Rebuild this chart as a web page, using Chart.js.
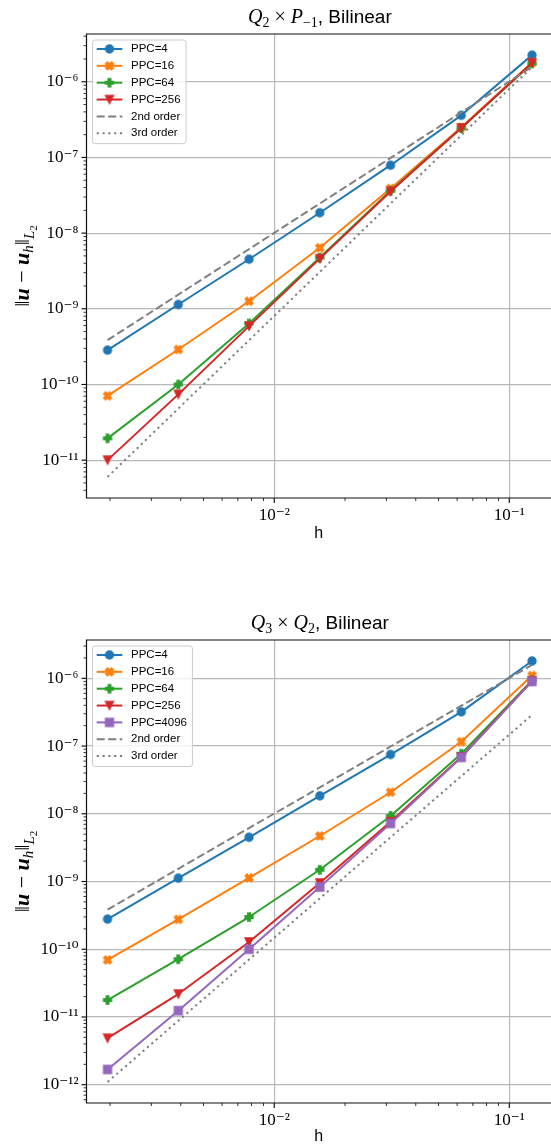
<!DOCTYPE html>
<html>
<head>
<meta charset="utf-8">
<script src="https://cdn.jsdelivr.net/npm/chart.js@4"></script>
<style>
  html, body { margin: 0; padding: 0; width: 551px; height: 1146px; overflow: hidden; background: #fff; }
  #fig { position: relative; width: 551px; height: 1146px; overflow: hidden; }
  canvas { position: absolute; left: 0; }
  #topChart { top: 0; }
  #bottomChart { top: 600px; }
</style>
</head>
<body>
<div id="fig">
  <canvas id="topChart" width="551" height="560"></canvas>
  <canvas id="bottomChart" width="551" height="546"></canvas>
</div>
<script>
// ==================== DATA ====================
// mesh size h = 1/512 ... 1/8
const hValues = [0.001953125, 0.00390625, 0.0078125, 0.015625, 0.03125, 0.0625, 0.125];

// Q2 x P-1, Bilinear
const topPPC4   = [2.84e-10, 1.14e-9, 4.52e-9, 1.86e-8, 7.9e-8, 3.6e-7, 2.25e-6];
const topPPC16  = [7.07e-11, 2.9e-10, 1.26e-9, 6.4e-9, 3.9e-8, 2.5e-7, 1.8e-6];
const topPPC64  = [1.94e-11, 1.0e-10, 6.4e-10, 4.75e-9, 3.62e-8, 2.45e-7, 1.75e-6];
const topPPC256 = [1.0e-11, 7.4e-11, 5.9e-10, 4.6e-9, 3.55e-8, 2.45e-7, 1.78e-6];
const top2nd    = [3.85e-10, 1.54e-9, 6.15e-9, 2.46e-8, 9.85e-8, 3.94e-7, 1.58e-6];
const top3rd    = [6.0e-12, 4.8e-11, 3.84e-10, 3.07e-9, 2.46e-8, 1.97e-7, 1.57e-6];

// Q3 x Q2, Bilinear
const botPPC4    = [2.79e-10, 1.12e-9, 4.5e-9, 1.84e-8, 7.5e-8, 3.2e-7, 1.8e-6];
const botPPC16   = [6.96e-11, 2.76e-10, 1.13e-9, 4.7e-9, 2.08e-8, 1.16e-7, 1.1e-6];
const botPPC64   = [1.78e-11, 7.13e-11, 2.99e-10, 1.49e-9, 9.3e-9, 7.7e-8, 9.3e-7];
const botPPC256  = [4.86e-12, 2.18e-11, 1.28e-10, 9.5e-10, 7.6e-9, 6.9e-8, 9.2e-7];
const botPPC4096 = [1.68e-12, 1.24e-11, 1.0e-10, 8.3e-10, 7.2e-9, 6.8e-8, 9.0e-7];
const bot2nd     = [3.85e-10, 1.54e-9, 6.15e-9, 2.46e-8, 9.85e-8, 3.94e-7, 1.58e-6];
const bot3rd     = [1.1e-12, 8.8e-12, 7.04e-11, 5.63e-10, 4.5e-9, 3.6e-8, 2.88e-7];

// axis limits (the figure is cropped on the right, just before the right spine)
const xMin = 1.589e-3, xMax = 0.1505;
const topYMin = 3.16e-12, topYMax = 4.28e-6;
const botYMin = 5.37e-13, botYMax = 3.68e-6;

const xLabel = 'h';
const topTitle = ['Q', '2', ' × ', 'P', '−1', ', Bilinear'];
const botTitle = ['Q', '3', ' × ', 'Q', '2', ', Bilinear'];

// ==================== STYLE ====================
const C_BLUE = '#1f77b4', C_ORANGE = '#ff7f0e', C_GREEN = '#2ca02c', C_RED = '#d62728', C_PURPLE = '#9467bd', C_GRAY = '#808080';
const AREA_LEFT = 86.5;
const SERIF = '"Liberation Serif", "DejaVu Serif", serif';
const SANS = '"Liberation Sans", "DejaVu Sans", sans-serif';

const SUP = { '-': '⁻', '0': '⁰', '1': '¹', '2': '²', '3': '³', '4': '⁴', '5': '⁵', '6': '⁶', '7': '⁷', '8': '⁸', '9': '⁹' };
function powLabel(e) {
    return '10' + String(e).split('').map(c => SUP[c]).join('');
}

// ticks at 1..9 x 10^e inside [min, max]
function logTicks(min, max) {
    const out = [];
    for (let e = Math.floor(Math.log10(min)); e <= Math.ceil(Math.log10(max)); e++) {
        for (let m = 1; m <= 9; m++) {
            const v = m * Math.pow(10, e);
            if (v >= min && v <= max) out.push({ value: v, major: m === 1, exp: e });
        }
    }
    return out;
}

const MARKER_PATHS = {
    X: [[-1,-2],[0,-1],[1,-2],[2,-1],[1,0],[2,1],[1,2],[0,1],[-1,2],[-2,1],[-1,0],[-2,-1]].map(p => [p[0] / 4, p[1] / 4]),
    P: [[-1,-3],[1,-3],[1,-1],[3,-1],[3,1],[1,1],[1,3],[-1,3],[-1,1],[-3,1],[-3,-1],[-1,-1]].map(p => [p[0] / 6, p[1] / 6]),
    v: [[0, 0.5], [-0.5, -0.5], [0.5, -0.5]],
    s: [[-0.5, -0.5], [0.5, -0.5], [0.5, 0.5], [-0.5, 0.5]]
};

function markerCanvas(kind, color) {
    const S = 14, m = 8;
    const c = document.createElement('canvas');
    c.width = S; c.height = S;
    const g = c.getContext('2d');
    g.translate(S / 2, S / 2);
    g.fillStyle = color;
    g.strokeStyle = color;
    g.lineWidth = 1.3;
    g.beginPath();
    if (kind === 'o') {
        g.arc(0, 0, m / 2, 0, Math.PI * 2);
    } else {
        MARKER_PATHS[kind].forEach((p, i) => i ? g.lineTo(p[0] * m, p[1] * m) : g.moveTo(p[0] * m, p[1] * m));
        g.closePath();
    }
    g.fill();
    g.stroke();
    return c;
}

function series(label, values, color, marker, dash, order) {
    return {
        label: label,
        data: hValues.map((h, i) => ({ x: h, y: values[i] })),
        borderColor: color,
        backgroundColor: color,
        borderWidth: 2,
        borderDash: dash || [],
        borderJoinStyle: 'round',
        pointStyle: marker ? markerCanvas(marker, color) : 'circle',
        pointRadius: marker ? 4 : 0,
        pointHoverRadius: marker ? 4 : 0,
        tension: 0,
        order: order
    };
}

// per-panel text (title) and layout, in canvas pixels
const PANELS = {
    topChart: { title: topTitle, areaTop: 34, areaBottom: 498, hCenter: 534 },
    bottomChart: { title: botTitle, areaTop: 40, areaBottom: 503, hCenter: 538 }
};

function drawRuns(ctx, runs, cx, baseY) {
    ctx.save();
    ctx.textBaseline = 'alphabetic';
    ctx.textAlign = 'left';
    ctx.fillStyle = '#000';
    const widths = runs.map(r => { ctx.font = r.font; return ctx.measureText(r.text).width; });
    const total = widths.reduce((a, b) => a + b, 0);
    let x = cx - total / 2;
    runs.forEach((r, i) => {
        ctx.font = r.font;
        ctx.fillText(r.text, x, baseY + (r.dy || 0));
        x += widths[i];
    });
    ctx.restore();
}

function titleRuns(t) {
    const it = 'italic 20px ' + SERIF, rm = '20px ' + SERIF, sub = '14px ' + SERIF;
    return [
        { text: t[0], font: it },
        { text: t[1], font: sub, dy: 3.5 },
        { text: t[2], font: rm },
        { text: t[3], font: it },
        { text: t[4], font: sub, dy: 3.5 },
        { text: t[5], font: '19px ' + SANS }
    ];
}

const yLabelRuns = [
    { text: '‖', font: '22px ' + SERIF },
    { text: 'u', font: 'bold italic 22px ' + SERIF },
    { text: ' − ', font: '22px ' + SERIF },
    { text: 'u', font: 'bold italic 22px ' + SERIF },
    { text: 'h', font: 'italic 15px ' + SERIF, dy: 4 },
    { text: '‖', font: '22px ' + SERIF },
    { text: 'L', font: 'italic 15px ' + SERIF, dy: 4.5 },
    { text: '2', font: '11px ' + SERIF, dy: 7.5 }
];

// ==================== PLUGINS ====================
const axesPlugin = {
    id: 'mplAxes',
    afterDatasetsDraw(chart) {
        const { ctx, chartArea: a, scales } = chart;
        const x = scales.x, y = scales.y;
        ctx.save();
        ctx.strokeStyle = '#000';
        x.ticks.forEach(t => {
            const px = x.getPixelForValue(t.value);
            ctx.lineWidth = t.major ? 1.1 : 0.8;
            ctx.beginPath();
            ctx.moveTo(px, a.bottom);
            ctx.lineTo(px, a.bottom + (t.major ? 5 : 3));
            ctx.stroke();
        });
        y.ticks.forEach(t => {
            const py = y.getPixelForValue(t.value);
            ctx.lineWidth = t.major ? 1.1 : 0.8;
            ctx.beginPath();
            ctx.moveTo(a.left, py);
            ctx.lineTo(a.left - (t.major ? 5 : 3), py);
            ctx.stroke();
        });
        // left, top and bottom spines (the right one lies outside the crop)
        ctx.lineWidth = 1.2;
        ctx.strokeStyle = '#111';
        ctx.beginPath();
        ctx.moveTo(a.right + 2, a.top);
        ctx.lineTo(a.left, a.top);
        ctx.lineTo(a.left, a.bottom);
        ctx.lineTo(a.right + 2, a.bottom);
        ctx.stroke();
        ctx.restore();

        const p = PANELS[chart.canvas.id];
        drawRuns(ctx, titleRuns(p.title), (a.left + a.right + 2.2) / 2, a.top - 10.7);
        ctx.save();
        ctx.translate(29, (a.top + a.bottom) / 2);
        ctx.rotate(-Math.PI / 2);
        drawRuns(ctx, yLabelRuns, 0, 0);
        ctx.restore();
    }
};

function roundRectPath(ctx, x, y, w, h, r) {
    ctx.beginPath();
    ctx.moveTo(x + r, y);
    ctx.lineTo(x + w - r, y);
    ctx.arcTo(x + w, y, x + w, y + r, r);
    ctx.lineTo(x + w, y + h - r);
    ctx.arcTo(x + w, y + h, x + w - r, y + h, r);
    ctx.lineTo(x + r, y + h);
    ctx.arcTo(x, y + h, x, y + h - r, r);
    ctx.lineTo(x, y + r);
    ctx.arcTo(x, y, x + r, y, r);
    ctx.closePath();
}

const legendPlugin = {
    id: 'mplLegend',
    afterDraw(chart) {
        const { ctx, chartArea: a } = chart;
        const sets = chart.data.datasets;
        const left = a.left + 6, top = a.top + 6, rowH = 16.85;
        ctx.save();
        ctx.font = '11.5px ' + SANS;
        const textW = Math.max(...sets.map(d => ctx.measureText(d.label).width));
        const w = 38.5 + textW + 5.5;
        const h = 9 + (sets.length - 1) * rowH + 10.4;
        roundRectPath(ctx, left, top, w, h, 2.5);
        ctx.fillStyle = 'rgba(255,255,255,0.8)';
        ctx.fill();
        ctx.strokeStyle = '#cccccc';
        ctx.lineWidth = 1;
        ctx.stroke();
        sets.forEach((d, i) => {
            const cy = top + 9 + i * rowH;
            ctx.strokeStyle = d.borderColor;
            ctx.lineWidth = d.borderWidth;
            ctx.setLineDash(d.borderDash || []);
            ctx.beginPath();
            ctx.moveTo(left + 4.2, cy);
            ctx.lineTo(left + 29.8, cy);
            ctx.stroke();
            ctx.setLineDash([]);
            if (d.pointRadius > 0) {
                const img = d.pointStyle;
                ctx.drawImage(img, left + 17 - img.width / 2, cy - img.height / 2);
            }
            ctx.fillStyle = '#000';
            ctx.textBaseline = 'middle';
            ctx.textAlign = 'left';
            ctx.fillText(d.label, left + 38.5, cy);
        });
        ctx.restore();
    }
};

// ==================== CHART SETUP ====================
const gridColor = ctx => (ctx.tick && ctx.tick.major) ? '#b8b8b8' : 'rgba(0,0,0,0)';
function tickLabel(value, index, ticks) {
    const t = ticks[index];
    return t && t.major ? powLabel(t.exp) : '';
}

function makePanel(id, datasets, yMin, yMax) {
    const p = PANELS[id];
    const canvas = document.getElementById(id);
    const H = canvas.height;
    return new Chart(canvas, {
        type: 'line',
        data: { datasets: datasets },
        options: {
            responsive: false,
            animation: false,
            devicePixelRatio: 1,
            events: [],
            layout: { autoPadding: false, padding: { top: p.areaTop, left: 0, right: 0, bottom: 0 } },
            plugins: { legend: { display: false }, tooltip: { enabled: false } },
            scales: {
                x: {
                    type: 'logarithmic',
                    position: 'bottom',
                    min: xMin,
                    max: xMax,
                    afterBuildTicks: s => { s.ticks = logTicks(xMin, xMax); },
                    afterFit: s => { s.height = H - p.areaBottom; },
                    grid: { color: gridColor, lineWidth: 1.2, drawTicks: false },
                    border: { display: false },
                    ticks: { autoSkip: false, maxRotation: 0, padding: 7, color: '#000', font: { family: SERIF, size: 17 }, callback: tickLabel },
                    title: { display: true, text: xLabel, color: '#000', font: { family: SANS, size: 16, lineHeight: 1.2 }, padding: { top: 0, bottom: Math.max(0, H - p.hCenter - 9.6) } }
                },
                y: {
                    type: 'logarithmic',
                    position: 'left',
                    min: yMin,
                    max: yMax,
                    afterBuildTicks: s => { s.ticks = logTicks(yMin, yMax); },
                    afterFit: s => { s.width = AREA_LEFT; },
                    grid: { color: gridColor, lineWidth: 1.2, drawTicks: false },
                    border: { display: false },
                    ticks: { autoSkip: false, padding: 8, color: '#000', font: { family: SERIF, size: 17 }, callback: tickLabel }
                }
            }
        },
        plugins: [axesPlugin, legendPlugin]
    });
}

makePanel('topChart', [
    series('PPC=4', topPPC4, C_BLUE, 'o', null, 6),
    series('PPC=16', topPPC16, C_ORANGE, 'X', null, 5),
    series('PPC=64', topPPC64, C_GREEN, 'P', null, 4),
    series('PPC=256', topPPC256, C_RED, 'v', null, 3),
    series('2nd order', top2nd, C_GRAY, null, [8, 3.5], 2),
    series('3rd order', top3rd, C_GRAY, null, [2.2, 3.6], 1)
], topYMin, topYMax);

makePanel('bottomChart', [
    series('PPC=4', botPPC4, C_BLUE, 'o', null, 7),
    series('PPC=16', botPPC16, C_ORANGE, 'X', null, 6),
    series('PPC=64', botPPC64, C_GREEN, 'P', null, 5),
    series('PPC=256', botPPC256, C_RED, 'v', null, 4),
    series('PPC=4096', botPPC4096, C_PURPLE, 's', null, 3),
    series('2nd order', bot2nd, C_GRAY, null, [8, 3.5], 2),
    series('3rd order', bot3rd, C_GRAY, null, [2.2, 3.6], 1)
], botYMin, botYMax);
</script>
</body>
</html>
